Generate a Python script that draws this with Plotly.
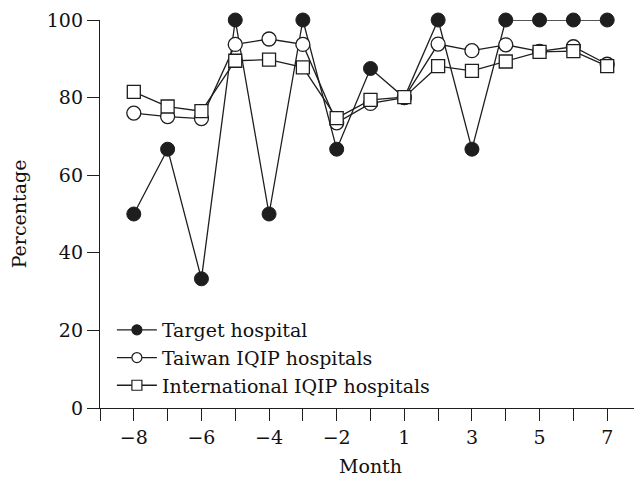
import plotly.graph_objects as go

months = ["−8", "−7", "−6", "−5", "−4", "−3", "−2", "−1", "1", "2", "3", "4", "5", "6", "7"]
target = [50, 66.7, 33.3, 100, 50, 100, 66.7, 87.5, 80, 100, 66.7, 100, 100, 100, 100]
taiwan = [76, 75.1, 74.6, 93.7, 95.1, 93.7, 73.5, 78.5, 80, 93.8, 92.1, 93.6, 91.9, 93.1, 88.6]
international = [81.5, 77.7, 76.5, 89.5, 89.8, 87.8, 74.7, 79.4, 80.1, 88.1, 86.9, 89.3, 91.8, 92, 88.1]
series_names = ["Target hospital", "Taiwan IQIP hospitals", "International IQIP hospitals"]

xpos = list(range(len(months)))
labeled = ["−8", "−6", "−4", "−2", "1", "3", "5", "7"]
tickvals = list(range(-1, len(months) + 1))
ticktext = [(months[i] if 0 <= i < len(months) and months[i] in labeled else "") for i in tickvals]

FONT = "DejaVu Serif"
LC = "#1e1e1e"
FS = 19

styles = [
    dict(symbol="circle", size=14, color=LC, lw=1.0),
    dict(symbol="circle", size=14, color="white", lw=1.3),
    dict(symbol="square", size=13, color="white", lw=1.3),
]

fig = go.Figure()
for name, vals, st in zip(series_names, [target, taiwan, international], styles):
    fig.add_trace(go.Scatter(x=xpos, y=vals, name=name, mode="lines+markers",
                             cliponaxis=False, showlegend=False,
                             line=dict(color=LC, width=1.3),
                             marker=dict(symbol=st["symbol"], size=st["size"], color=st["color"],
                                         line=dict(color=LC, width=st["lw"]))))
# legend entries (smaller symbols, as in the reference key)
for name, st in zip(series_names, styles):
    fig.add_trace(go.Scatter(x=[None], y=[None], name=name, mode="lines+markers",
                             showlegend=True,
                             line=dict(color=LC, width=1.3),
                             marker=dict(symbol=st["symbol"], size=10, color=st["color"],
                                         line=dict(color=LC, width=1.2))))

fig.update_layout(
    width=634, height=469,
    margin=dict(l=92, r=1, t=12, b=69),
    paper_bgcolor="white", plot_bgcolor="white",
    font=dict(family=FONT, size=FS, color="#111"),
    showlegend=True,
    legend=dict(x=0.022, y=0.25, xanchor="left", yanchor="top", bgcolor="rgba(0,0,0,0)",
                font=dict(family=FONT, size=FS, color="#111"), tracegroupgap=0,
                itemwidth=40),
    xaxis=dict(range=[-1, len(months)], tickmode="array", tickvals=tickvals, ticktext=ticktext,
               automargin=False,
               showgrid=False, zeroline=False, showline=True, linecolor=LC, linewidth=1.3,
               ticks="outside", ticklen=12, tickwidth=1.3, tickcolor=LC,
               title=dict(text="Month", font=dict(size=FS)), tickfont=dict(size=FS)),
    yaxis=dict(range=[0, 100], tickvals=[0, 20, 40, 60, 80, 100], automargin=False,
               showgrid=False, zeroline=False, showline=True, linecolor=LC, linewidth=1.3,
               ticks="outside", ticklen=12, tickwidth=1.3, tickcolor=LC,
               title=dict(text="Percentage", font=dict(size=FS)), tickfont=dict(size=FS)),
)

fig.write_html("out.html")
